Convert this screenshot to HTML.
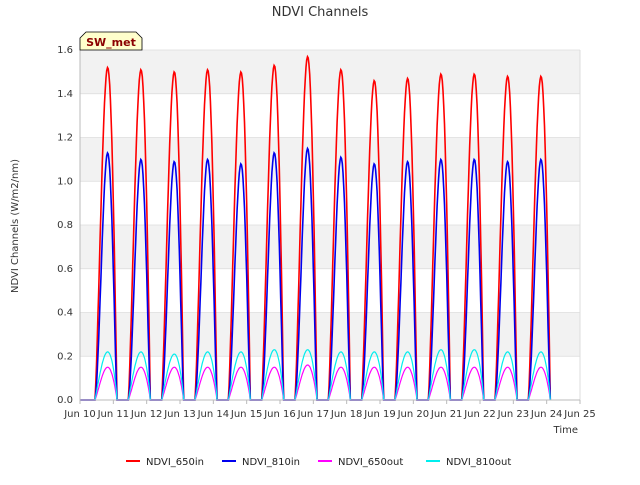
<!DOCTYPE html>
<html><head><meta charset="utf-8"><style>
body{margin:0;background:#fff;font-family:"Liberation Sans","DejaVu Sans",sans-serif}
</style></head><body>
<svg id="chart" width="640" height="480" xmlns="http://www.w3.org/2000/svg" font-family="DejaVu Sans, Liberation Sans, sans-serif">
<rect width="640" height="480" fill="#fff"/>
<text x="320" y="16" text-anchor="middle" font-size="13" fill="#333">NDVI Channels</text>
<g id="bands"></g><g id="grid"></g><g id="series"></g><g id="axes"></g>
<text transform="translate(18,226) rotate(-90)" text-anchor="middle" font-size="10" fill="#333">NDVI Channels (W/m2/nm)</text>
<text x="578" y="433" text-anchor="end" font-size="10" fill="#333">Time</text>
<g>
<path d="M80,50 L80,38 L86,32 L136,32 L142,38 L142,50 Z" fill="#ffffcc" stroke="#000" stroke-width="0.8"/>
<text x="111" y="46" text-anchor="middle" font-size="11" font-weight="bold" fill="#8b0000">SW_met</text>
</g>
<g id="legend"></g>
</svg>
<script>
const days=["Jun 10","Jun 11","Jun 12","Jun 13","Jun 14","Jun 15","Jun 16","Jun 17","Jun 18","Jun 19","Jun 20","Jun 21","Jun 22","Jun 23","Jun 24","Jun 25"];
const yTicks=[0,0.2,0.4,0.6,0.8,1.0,1.2,1.4,1.6];
const peak650in=[1.52,1.51,1.50,1.51,1.50,1.53,1.57,1.51,1.46,1.47,1.49,1.49,1.48,1.48];
const peak810in=[1.13,1.10,1.09,1.10,1.08,1.13,1.15,1.11,1.08,1.09,1.10,1.10,1.09,1.10];
const peak650out=[0.15,0.15,0.15,0.15,0.15,0.15,0.16,0.15,0.15,0.15,0.15,0.15,0.15,0.15];
const peak810out=[0.22,0.22,0.21,0.22,0.22,0.23,0.23,0.22,0.22,0.22,0.23,0.23,0.22,0.22];
const seriesNames=["NDVI_650in","NDVI_810in","NDVI_650out","NDVI_810out"];
const X0=80,X1=580,Y0=400,Y1=50;
const xS=d=>X0+(X1-X0)*d/15;
const yS=v=>Y0-(Y0-Y1)*v/1.6;
const NS="http://www.w3.org/2000/svg";
function mk(t,a,p){const e=document.createElementNS(NS,t);for(const k in a)e.setAttribute(k,a[k]);p.appendChild(e);return e;}
const bands=document.getElementById('bands'),grid=document.getElementById('grid'),axes=document.getElementById('axes'),ser=document.getElementById('series'),leg=document.getElementById('legend');
for(let i=0;i<yTicks.length-1;i++){
 if(i%2==1){const r=mk('rect',{x:X0,y:yS(yTicks[i+1]),width:X1-X0,height:yS(yTicks[i])-yS(yTicks[i+1]),fill:'#f2f2f2'},bands);
 
 }
}
yTicks.forEach(v=>{
 const l=mk('line',{x1:X0,x2:X1,y1:yS(v),y2:yS(v),stroke:'#dcdcdc','stroke-width':0.8},grid);
 
 
 const t=mk('text',{x:X0-7,y:yS(v)+3,'text-anchor':'end','font-size':10,fill:'#333'},axes);t.textContent=v.toFixed(1);
 
 
});
mk('line',{x1:X1,x2:X1,y1:Y1,y2:Y0,stroke:'#dcdcdc'},grid);
mk('line',{x1:X0,x2:X0,y1:Y1,y2:Y0,stroke:'#bbb'},axes);
mk('line',{x1:X0,x2:X1,y1:Y0,y2:Y0,stroke:'#bbb'},axes);
days.forEach((d,i)=>{
 mk('line',{x1:xS(i),x2:xS(i),y1:Y0,y2:Y0+4,stroke:'#bbb'},axes);
 const t=mk('text',{x:xS(i),y:Y0+17,'text-anchor':'middle','font-size':10,fill:'#333'},axes);t.textContent=d;
 
 
});
const styles=[{p:peak650in,c:'#ff0000',pow:1.0,w:1.6},{p:peak810in,c:'#0000ee',pow:1.25,w:1.6},{p:peak650out,c:'#ff00ff',pow:0.9,w:1.2},{p:peak810out,c:'#00eeee',pow:0.8,w:1.2}];
styles.forEach((s,k)=>{
 let pts=[[xS(0),yS(0)]];
 s.p.forEach((pk,i)=>{
  const st=i+0.45,en=i+1.11;
  pts.push([xS(st),yS(0)]);
  for(let j=0;j<=30;j++){const t=j/30;let sh=Math.sin(Math.PI*Math.pow(t,1.25));pts.push([xS(st+(en-st)*t),yS(pk*Math.pow(Math.max(sh,0),s.pow))]);}
  pts.push([xS(en),yS(0)]);
 });
 const pl=mk('polyline',{points:pts.map(p=>p[0].toFixed(1)+','+p[1].toFixed(1)).join(' '),fill:'none',stroke:s.c,'stroke-width':s.w},ser);
 
 
});
const lx=[126,222,318,426];
seriesNames.forEach((n,k)=>{
 const g=mk('g',{},leg);
 
 
 mk('line',{x1:lx[k],x2:lx[k]+14,y1:461,y2:461,stroke:styles[k].c,'stroke-width':2},g);
 const t=mk('text',{x:lx[k]+20,y:465,'font-size':10,fill:'#222'},g);t.textContent=n;
});
</script>
</body></html>
